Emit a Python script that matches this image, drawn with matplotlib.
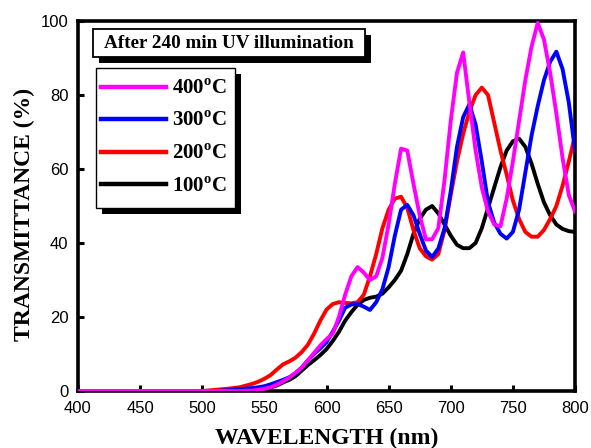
import matplotlib
matplotlib.use('Agg')
import matplotlib.pyplot as plt
from matplotlib.patches import Rectangle
from matplotlib.lines import Line2D

plt.rcParams['font.family'] = 'Liberation Sans'
plt.rcParams['mathtext.fontset'] = 'custom'
plt.rcParams['mathtext.rm'] = 'Liberation Serif:bold'
plt.rcParams['mathtext.bf'] = 'Liberation Serif:bold'

# wavelength grid (nm)
wl = [400, 450, 500, 510, 520, 530, 540] + list(range(545, 801, 5))

t400 = [0, 0, 0, 0, 0, 0, 0.1,
        0.3, 0.6, 1.0, 1.7, 2.6, 3.6, 4.9, 6.3, 8.2, 10.3,
        12.3, 14.0, 15.5, 20.0, 26.0, 31.0, 33.5, 32.0, 30.0, 31.0,
        36.0, 45.0, 56.0, 65.5, 65.0, 56.0, 47.5, 41.0, 41.0, 44.0,
        57.0, 73.0, 86.0, 91.5, 78.0, 65.0, 55.0, 48.5, 45.0, 44.5,
        52.0, 62.0, 73.0, 84.0, 93.0, 99.5, 95.0, 86.0, 75.0, 63.0,
        53.0, 48.5]

t300 = [0, 0, 0, 0, 0.2, 0.5, 0.8,
        1.0, 1.3, 1.8, 2.4, 3.0, 3.7, 4.8, 6.3, 8.3, 10.0,
        11.5, 13.2, 16.0, 19.0, 22.5, 23.4, 23.5, 22.8, 21.9, 24.0,
        27.5, 33.5, 42.0, 49.0, 50.3, 47.5, 42.5, 38.0, 36.2, 38.5,
        44.0, 54.0, 66.0, 74.0, 77.5, 72.0, 62.0, 51.0, 45.5, 42.5,
        41.2, 43.0, 49.0, 59.0, 69.0, 77.0, 84.0, 89.0, 91.7, 87.0,
        78.0, 65.0]

t200 = [0, 0, 0, 0.3, 0.6, 1.0, 1.9,
        2.5, 3.3, 4.3, 5.8, 7.2, 8.0, 9.0, 10.5, 12.5, 15.5,
        19.0, 22.0, 23.5, 24.0, 23.8, 23.7, 24.0, 26.0, 31.0, 37.0,
        44.0, 49.0, 52.0, 52.5, 49.5, 43.5, 38.6, 36.4, 35.5, 37.0,
        43.5, 53.0, 62.0, 69.5, 75.5, 80.0, 82.0, 80.0, 72.5, 65.0,
        58.5, 51.5, 46.5, 43.0, 41.7, 41.7, 43.5, 46.5, 50.0, 55.5,
        62.0, 69.0]

t100 = [0, 0, 0, 0, 0, 0, 0.1,
        0.3, 0.5, 0.9, 1.5, 2.3, 3.0, 4.0, 5.5, 7.0, 8.3,
        9.7, 11.3, 13.5, 16.0, 19.0, 21.3, 23.3, 24.6, 25.2, 25.5,
        26.3, 28.0, 30.0, 32.5, 37.0, 42.5, 46.5, 49.0, 50.0, 48.0,
        45.0, 42.0, 39.5, 38.6, 38.6, 40.0, 44.0, 49.5, 55.0, 60.5,
        65.0, 67.5, 68.2, 66.0, 61.5, 56.0, 51.0, 47.5, 45.0, 43.8,
        43.2, 43.0]

labels = ['400$^{\\mathbf{o}}$C', '300$^{\\mathbf{o}}$C',
          '200$^{\\mathbf{o}}$C', '100$^{\\mathbf{o}}$C']
colors = ['#ff00ff', '#0000ff', '#ff0000', '#000000']

W, H = 591, 448


def fbox(x0, y0, x1, y1):
    # pixel box (top-left origin) -> figure fraction rect
    return (x0 / W, 1 - y1 / H), (x1 - x0) / W, (y1 - y0) / H


def boxed(x0, y0, x1, y1, shift, lw):
    xy, w, h = fbox(x0 + shift, y0 + shift, x1 + shift, y1 + shift)
    fig.patches.append(Rectangle(xy, w, h, transform=fig.transFigure,
                                 facecolor='black', edgecolor='none', zorder=2))
    xy, w, h = fbox(x0, y0, x1, y1)
    fig.patches.append(Rectangle(xy, w, h, transform=fig.transFigure,
                                 facecolor='white', edgecolor='black', lw=lw, zorder=3))


fig = plt.figure(figsize=(W / 100, H / 100), dpi=100)
ax = fig.add_axes([78 / W, 1 - 391 / H, 497 / W, 370 / H])

series = [t400, t300, t200, t100]
for t, c, z in zip(series[::-1], colors[::-1], [2, 3, 4, 5]):
    ax.plot(wl, t, color=c, lw=2.8, zorder=z)

ax.set_xlim(400, 800)
ax.set_ylim(0, 100)
ax.set_xticks(range(400, 801, 50))
ax.set_yticks(range(0, 101, 20))
ax.tick_params(direction='in', length=4, width=2.2, top=False, right=False,
               labelsize=12, pad=7, colors='black')
for s in ax.spines.values():
    s.set_linewidth(2.6)

serif = dict(fontfamily='Liberation Serif', fontweight='bold')
ax.set_xlabel('WAVELENGTH (nm)', fontsize=17, labelpad=9, **serif)
ax.set_ylabel('TRANSMITTANCE (%)', fontsize=17, **serif)
ax.yaxis.set_label_coords(-0.087, 0.478)

# title box with drop shadow
boxed(93, 29, 365, 57, 6, 1.3)
fig.text((93 + 365) / 2 / W, 1 - 43 / H, 'After 240 min UV illumination',
         ha='center', va='center', fontsize=13.8, zorder=4, **serif)

# legend box with drop shadow
boxed(96, 68, 235, 208, 6, 1.0)
handles = [Line2D([], [], color=c, lw=3.2) for c in colors]
leg = fig.legend(handles, labels, loc='upper left',
                 bbox_to_anchor=(101 / W, 1 - 79 / H), frameon=False,
                 borderpad=0, borderaxespad=0, handlelength=3.1,
                 handletextpad=0.3, labelspacing=0.6,
                 prop={'family': 'Liberation Serif', 'weight': 'bold', 'size': 15})
leg.set_zorder(6)

fig.savefig('out.png', dpi=100)
